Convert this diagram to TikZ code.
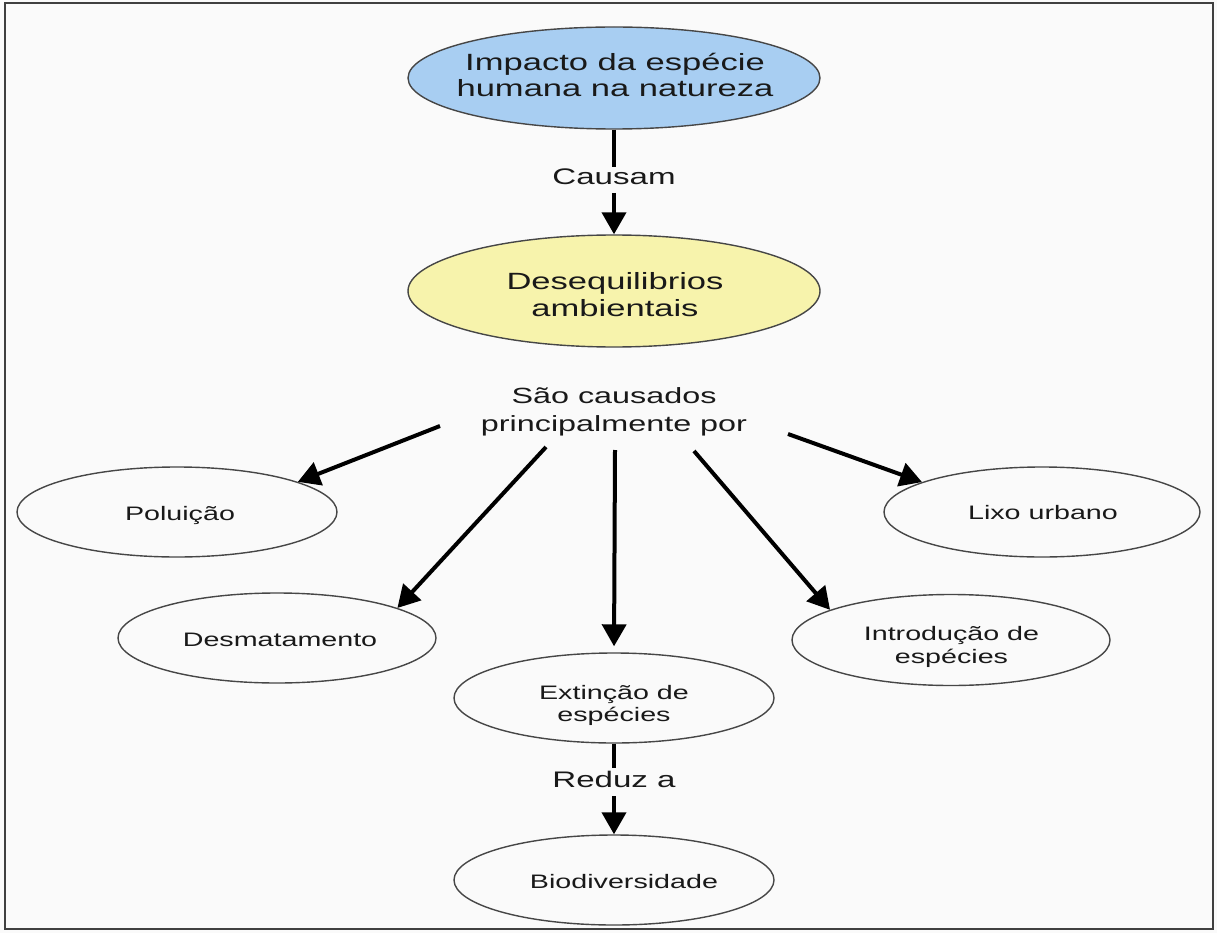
\documentclass[tikz,border=0pt]{standalone}
\usepackage{fontspec}
\setmainfont{Liberation Sans}
\usepackage{graphicx}
\usetikzlibrary{arrows.meta,shapes.geometric}
\definecolor{bgc}{RGB}{250,250,250}
\definecolor{impblue}{RGB}{168,206,242}
\definecolor{desyellow}{RGB}{247,243,172}
\definecolor{outline}{RGB}{70,70,70}
\definecolor{ink}{RGB}{25,25,25}
% wide centred text block: font size, baseline skip, lines
\newcommand{\widetext}[3]{\scalebox{1.47}[1]{\fontsize{#1}{#2}\selectfont\begin{tabular}{@{}c@{}}#3\end{tabular}}}

\begin{document}
\begin{tikzpicture}[x=1pt,y=-1pt,
  ell/.style={draw=outline, line width=1.4pt, ellipse, inner sep=0pt},
  txt/.style={inner sep=0pt, text=ink},
  conn/.style={line width=4pt, black},
  arr/.style={conn, -{Triangle[length=22pt,width=24pt]}},
]
% page and frame
\fill[bgc] (0,0) rectangle (1217,933);
\draw[line width=2pt, black!75] (5,3) rectangle (1213,929);

% main concepts
\node[ell, fill=impblue, minimum width=412pt, minimum height=102pt] (imp) at (614,78) {};
\node[txt] (impT) at (615,78) {\widetext{23.5}{26}{Impacto da espécie\\humana na natureza}};

\node[ell, fill=desyellow, minimum width=412pt, minimum height=112pt] (des) at (614,291) {};
\node[txt] (desT) at (615,298) {\widetext{23.5}{27}{Desequilibrios\\ambientais}};

% linking phrases
\node[txt] (causam) at (614,179.8) {\widetext{22.5}{26}{Causam}};
\node[txt] (sao) at (614,411.8) {\widetext{22}{28.4}{São causados\\principalmente por}};
\node[txt, inner sep=1pt] (reduz) at (614,781.8) {\widetext{22.5}{26}{Reduz a}};

% causes
\node[ell, minimum width=320pt, minimum height=90pt] (pol) at (177,512) {};
\node[txt] (polT) at (180,515.6) {\widetext{19.5}{22}{Poluição}};

\node[ell, minimum width=316pt, minimum height=90pt] (lixo) at (1042,512) {};
\node[txt] (lixoT) at (1043,514.6) {\widetext{19.5}{22}{Lixo urbano}};

\node[ell, minimum width=318pt, minimum height=90pt] (desm) at (277,638) {};
\node[txt] (desmT) at (280,641.6) {\widetext{19.5}{22}{Desmatamento}};

\node[ell, minimum width=318pt, minimum height=91pt] (intro) at (951,640) {};
\node[txt] (introT) at (951.5,647.4) {\widetext{19.5}{22.3}{Introdução de\\espécies}};

\node[ell, minimum width=320pt, minimum height=90pt] (ext) at (614,698) {};
\node[txt] (extT) at (614,706.5) {\widetext{19.5}{22}{Extinção de\\espécies}};

\node[ell, minimum width=320pt, minimum height=90pt] (bio) at (614,880) {};
\node[txt] (bioT) at (624,883.6) {\widetext{19.5}{22}{Biodiversidade}};

% start points of the fan of arrows below the linking phrase
\coordinate (s1) at (440,426);
\coordinate (s2) at (546,447);
\coordinate (s3) at (615,450);
\coordinate (s4) at (694,451);
\coordinate (s5) at (788,434);

% connectors
\draw[conn] (imp) -- (causam);
\draw[arr] (causam) -- (des);

\draw[arr] (s1) -- (pol.14);
\draw[arr] (s2) -- (desm.14);
\draw[arr, shorten >=6pt] (s3) -- (ext.north);
\draw[arr] (s4) -- (intro.166);
\draw[arr] (s5) -- (lixo.166);

\draw[conn] (ext) -- (reduz);
\draw[arr] (reduz) -- (bio);
\end{tikzpicture}
\end{document}
